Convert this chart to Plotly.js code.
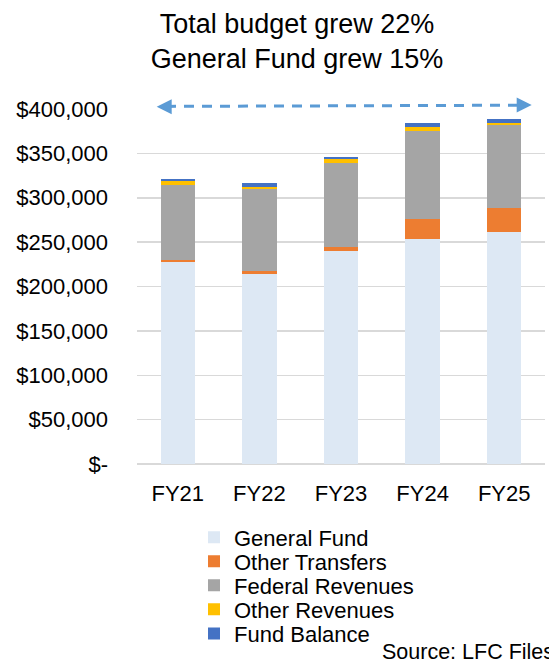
<!DOCTYPE html>
<html>
<head>
<meta charset="utf-8">
<script src="https://cdn.plot.ly/plotly-3.0.1.min.js"></script>
<style>html,body{margin:0;padding:0;background:#fff;}#chart{width:549px;height:661px;}</style>
</head>
<body>
<div id="chart"></div>
<script>
// ---- data ----
const years = ["FY21", "FY22", "FY23", "FY24", "FY25"];
const generalFund     = [227500, 213700, 240000, 253800, 261500];
const otherTransfers  = [2300, 4000, 4500, 21900, 26700];
const federalRevenues = [84300, 91900, 94400, 99400, 93600];
const otherRevenues   = [5200, 2300, 4500, 4500, 2600];
const fundBalance     = [2300, 4800, 2300, 4800, 4900];
const seriesNames = ["General Fund", "Other Transfers", "Federal Revenues", "Other Revenues", "Fund Balance"];
const seriesColors = ["#dde8f4", "#ed7d31", "#a5a5a5", "#ffc000", "#4472c4"];
const yTickVals = [0, 50000, 100000, 150000, 200000, 250000, 300000, 350000, 400000];
const yTickText = ["$-", "$50,000", "$100,000", "$150,000", "$200,000", "$250,000", "$300,000", "$350,000", "$400,000"];
const titleLines = ["Total budget grew 22%", "General Fund grew 15%"];
const sourceText = "Source: LFC Files";

const FONT = "Liberation Sans, Arial, sans-serif";
const W = 549, H = 661;
const plotL = 137, plotR = 545, plotT = 109, plotB = 463.6;
const pw = plotR - plotL, ph = plotB - plotT;
const px = v => (v - plotL) / pw;
const py = v => (plotB - v) / ph;

const values = [generalFund, otherTransfers, federalRevenues, otherRevenues, fundBalance];
const legendIds = ["legend", "legend2", "legend3", "legend4", "legend5"];
const traces = values.map((vals, i) => ({
  type: "bar",
  x: years,
  y: vals,
  name: seriesNames[i],
  legend: legendIds[i],
  marker: {color: seriesColors[i], line: {width: 0}},
  hoverinfo: "skip"
}));

const legendRowsY = [537, 561, 585, 609, 633];
const legendLayouts = {};
legendIds.forEach((id, i) => {
  legendLayouts[id] = {
    x: px(194), y: py(legendRowsY[i]), xanchor: "left", yanchor: "middle",
    font: {family: FONT, size: 22, color: "#000"},
    bgcolor: "rgba(0,0,0,0)", borderwidth: 0
  };
});

const layout = Object.assign({
  width: W, height: H,
  margin: {l: plotL, r: W - plotR, t: plotT, b: H - plotB, pad: 0},
  paper_bgcolor: "#fff", plot_bgcolor: "#fff",
  barmode: "stack",
  bargap: 0.58,
  showlegend: true,
  title: {
    text: titleLines.join("<br>"),
    font: {family: FONT, size: 27, color: "#000"},
    x: 297 / W, xref: "container", xanchor: "center",
    y: 1 - 33 / H, yref: "container", yanchor: "middle"
  },
  xaxis: {
    type: "category",
    tickfont: {family: FONT, size: 22, color: "#000"},
    showgrid: false, showline: false, zeroline: false,
    ticks: "", ticklabelstandoff: 14
  },
  yaxis: {
    range: [0, 400000],
    tickvals: yTickVals, ticktext: yTickText,
    tickfont: {family: FONT, size: 22, color: "#000"},
    showgrid: true, gridcolor: "#d9d9d9", gridwidth: 1.5,
    zeroline: true, zerolinecolor: "#d9d9d9", zerolinewidth: 1.5,
    showline: false, ticks: "", ticklabelstandoff: 28
  },
  shapes: [{
    type: "line", xref: "paper", yref: "paper",
    x0: px(166), y0: py(106.4), x1: px(522), y1: py(105.2),
    line: {color: "#5b9bd5", width: 3, dash: "10px,8px"}
  }],
  annotations: [
    {xref: "paper", yref: "paper", x: px(156.7), y: py(106.7), text: "",
     showarrow: true, ax: 16, ay: 0, arrowhead: 2, arrowsize: 1.5, arrowwidth: 2,
     arrowcolor: "#5b9bd5", standoff: 0},
    {xref: "paper", yref: "paper", x: px(531.7), y: py(105), text: "",
     showarrow: true, ax: -16, ay: 0, arrowhead: 2, arrowsize: 1.5, arrowwidth: 2,
     arrowcolor: "#5b9bd5", standoff: 0},
    {xref: "paper", yref: "paper", x: px(380), y: py(651), xanchor: "left", yanchor: "middle",
     text: sourceText, showarrow: false,
     font: {family: FONT, size: 21.5, color: "#000"}}
  ]
}, legendLayouts);

Plotly.newPlot("chart", traces, layout, {displayModeBar: false, staticPlot: true});
</script>
</body>
</html>
